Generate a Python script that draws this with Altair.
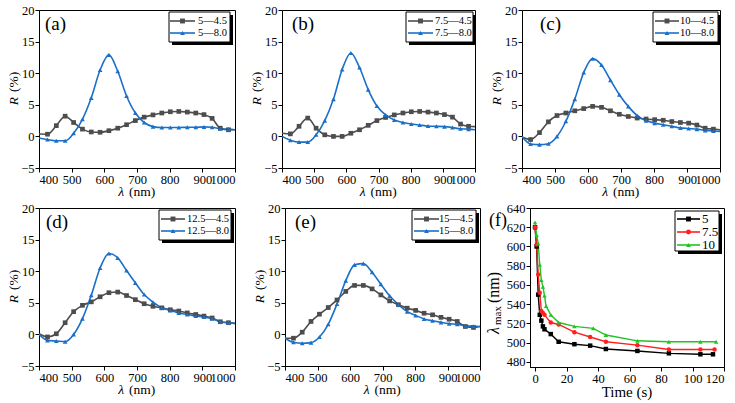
import altair as alt
import pandas as pd

SERIF = "Liberation Serif"
GRAY = "#4d4d4d"
BLUE = "#1a70c8"

# ---------------- data ----------------
WL = [400, 426, 453, 480, 506, 533, 560, 587, 614, 641, 668, 695, 722, 749,
      776, 802, 828, 854, 880, 905, 930, 955, 980, 1000]

a_45 = [0.37, 0.35, 1.7, 3.2, 2.2, 1.15, 0.7, 0.65, 0.9, 1.3, 1.85, 2.5, 3.05, 3.4,
        3.7, 3.9, 3.95, 3.85, 3.7, 3.45, 2.85, 1.3, 1.05, 1.05]
a_80 = [-0.25, -0.5, -0.7, -0.7, 0.5, 2.7, 6.1, 10.5, 12.9, 10.3, 6.4, 3.7, 2.2, 1.55,
        1.4, 1.4, 1.4, 1.45, 1.45, 1.5, 1.45, 1.2, 1.15, 1.05]
b_45 = [0.5, 0.4, 1.6, 2.9, 1.3, 0.25, 0.0, 0.0, 0.5, 1.05, 1.75, 2.5, 3.0, 3.4,
        3.7, 3.9, 3.95, 3.85, 3.7, 3.45, 3.05, 1.95, 1.6, 1.55]
b_80 = [0.0, -0.6, -0.9, -0.9, 0.25, 2.5, 5.9, 10.6, 13.2, 10.9, 7.4, 4.8, 3.4, 2.6,
        2.2, 1.95, 1.8, 1.65, 1.6, 1.55, 1.4, 1.2, 1.15, 1.05]
c_45 = [-0.1, -0.5, 0.6, 2.3, 3.3, 3.7, 4.05, 4.4, 4.75, 4.6, 4.05, 3.5, 3.15, 2.9,
        2.75, 2.65, 2.55, 2.35, 2.2, 2.1, 1.8, 1.3, 1.15, 1.05]
c_80 = [0.0, -1.2, -1.3, -1.15, 0.0, 2.4, 5.9, 10.1, 12.3, 11.3, 8.9, 6.6, 4.75, 3.3,
        2.5, 2.1, 1.85, 1.6, 1.35, 1.25, 1.15, 0.95, 0.85, 0.8]
d_45 = [0.1, -0.4, 0.1, 1.85, 3.6, 4.6, 5.15, 5.95, 6.6, 6.7, 6.15, 5.5, 4.85, 4.45,
        4.2, 3.9, 3.7, 3.4, 3.15, 2.9, 2.6, 2.0, 1.85, 1.75]
d_80 = [0.0, -0.95, -1.05, -1.15, 0.0, 2.5, 6.2, 10.5, 12.8, 12.1, 10.1, 8.15, 6.3, 5.1,
        4.2, 3.8, 3.4, 3.15, 2.9, 2.75, 2.5, 2.0, 1.85, 1.75]
e_45 = [-0.6, -0.6, 0.35, 2.05, 3.2, 4.25, 5.45, 6.8, 7.75, 7.75, 7.2, 6.25, 5.3, 4.7,
        4.15, 3.8, 3.35, 3.1, 2.7, 2.4, 2.05, 1.25, 1.1, 1.25]
e_80 = [-0.6, -1.25, -1.4, -1.3, -0.4, 1.6, 4.8, 8.5, 11.0, 11.2, 9.85, 7.95, 6.1, 4.7,
        3.6, 3.0, 2.45, 2.15, 1.9, 1.7, 1.6, 1.35, 1.3, 1.25]

LEG_A = ["5\u20144.5", "5\u20148.0"]
LEG_B = ["7.5\u20144.5", "7.5\u20148.0"]
LEG_C = ["10\u20144.5", "10\u20148.0"]
LEG_D = ["12.5\u20144.5", "12.5\u20148.0"]
LEG_E = ["15\u20144.5", "15\u20148.0"]

T5 = [0, 1, 2, 3, 4, 5, 6, 10, 15, 25, 35, 45, 65, 85, 105, 113]
L5 = [620, 600, 550, 529, 523, 517, 514, 509, 501, 498.5, 497, 493.5, 491.5, 489, 488, 488]
T75 = [0, 1, 2, 3, 4, 5, 6, 10, 15, 25, 35, 45, 65, 85, 105, 114]
L75 = [620, 602, 571, 552, 533, 531, 529, 521, 519, 511, 506, 501, 497.5, 493, 493, 493]
T10 = [0, 1, 2, 3, 4, 5, 6, 7, 10, 15, 25, 37, 45, 65, 85, 105, 115]
L10 = [625, 612, 603, 581, 565, 558, 549, 538, 529, 521, 517, 515, 508, 502, 501, 501, 501]
LEG_F = ["5", "7.5", "10"]

X_TICKS = [400, 500, 600, 700, 800, 900, 1000]
Y_TICKS = [-5, 0, 5, 10, 15, 20]
F_X_TICKS = [0, 20, 40, 60, 80, 100, 120]
F_Y_TICKS = [480, 500, 520, 540, 560, 580, 600, 620, 640]

ONE = pd.DataFrame({"k": [0]})


def deco_text(text, x, y, size=13, italic=False, align="left", angle=0, baseline="middle"):
    kw = dict(font=SERIF, fontSize=size, color="black", align=align, baseline=baseline)
    if italic:
        kw["fontStyle"] = "italic"
    if angle:
        kw["angle"] = angle
    return alt.Chart(ONE).mark_text(text=text, **kw).encode(x=alt.value(x), y=alt.value(y))


def legend_layers(labels, colors, shapes, box, rows, line_x, text_x, size=10.5):
    x0, y0, x1, y1 = box
    out = [
        alt.Chart(ONE).mark_rect(color="black").encode(
            x=alt.value(x0 + 3), x2=alt.value(x1 + 3), y=alt.value(y0 + 3), y2=alt.value(y1 + 3)),
        alt.Chart(ONE).mark_rect(fill="white", stroke="black", strokeWidth=1).encode(
            x=alt.value(x0), x2=alt.value(x1), y=alt.value(y0), y2=alt.value(y1)),
    ]
    for lab, col, shp, ry in zip(labels, colors, shapes, rows):
        out.append(alt.Chart(ONE).mark_rule(color=col, strokeWidth=1.6).encode(
            x=alt.value(line_x[0]), x2=alt.value(line_x[1]), y=alt.value(ry)))
        out.append(alt.Chart(ONE).mark_point(filled=True, color=col, shape=shp, size=24, opacity=1).encode(
            x=alt.value((line_x[0] + line_x[1]) / 2), y=alt.value(ry)))
        out.append(deco_text(lab, text_x, ry, size=size))
    return out


def spectrum_panel(tag, labels, y45, y80, w, box, line_x, text_x, tag_x, ytx=-25):
    h = 158
    n = len(WL)
    df = pd.DataFrame({
        "wl": WL + WL,
        "R": y45 + y80,
        "series": [labels[0]] * n + [labels[1]] * n,
        "mk": ([False] + [True] * (n - 2) + [False]) * 2,
    })
    xs = alt.Scale(domain=[400, 1000], nice=False, zero=False)
    ys = alt.Scale(domain=[-5, 20], nice=False, zero=False)
    X = alt.X("wl:Q", scale=xs, axis=alt.Axis(values=X_TICKS, title=None, format="d"))
    Y = alt.Y("R:Q", scale=ys, axis=alt.Axis(values=Y_TICKS, title=None, format="d"))
    color = alt.Color("series:N", scale=alt.Scale(domain=labels, range=[GRAY, BLUE]), legend=None)
    shape = alt.Shape("series:N", scale=alt.Scale(domain=labels, range=["square", "triangle-up"]), legend=None)
    line = alt.Chart(df).mark_line(interpolate="monotone", strokeWidth=1.6, clip=True).encode(
        x=X, y=Y, color=color, detail="series:N")
    pts = alt.Chart(df).transform_filter("datum.mk").mark_point(
        filled=True, size=22, opacity=1, clip=True).encode(x=X, y=Y, color=color, shape=shape)
    layers = [line, pts]
    layers += legend_layers(labels, [GRAY, BLUE], ["square", "triangle-up"], box,
                            [box[1] + 9, box[1] + 21], line_x, text_x)
    layers.append(deco_text(tag, tag_x, 20, size=19, baseline="alphabetic"))
    # y title: italic R + " (%)", rotated
    split_y = 87
    layers.append(deco_text("R", ytx, split_y, size=13.5, italic=True, align="right", angle=270))
    layers.append(deco_text("(%)", ytx, split_y - 5, size=13.5, align="left", angle=270))
    # x title
    split_x = w / 2 - 13
    layers.append(deco_text("\u03bb", split_x, h + 24, size=13.5, italic=True, align="right"))
    layers.append(deco_text("(nm)", split_x + 5, h + 24, size=13.5, align="left"))
    return alt.layer(*layers).properties(width=w, height=h)


def time_panel():
    w, h = 194, 159
    df = pd.DataFrame({
        "t": T5 + T75 + T10,
        "lam": L5 + L75 + L10,
        "series": ["5"] * len(T5) + ["7.5"] * len(T75) + ["10"] * len(T10),
    })
    cols = ["#000000", "#ff1f1f", "#22c422"]
    shps = ["square", "circle", "triangle-up"]
    xs = alt.Scale(domain=[-3.2, 120], nice=False, zero=False)
    ys = alt.Scale(domain=[474.8, 640], nice=False, zero=False)
    X = alt.X("t:Q", scale=xs, axis=alt.Axis(values=F_X_TICKS, title=None, format="d"))
    Y = alt.Y("lam:Q", scale=ys, axis=alt.Axis(values=F_Y_TICKS, title=None, format="d"))
    color = alt.Color("series:N", scale=alt.Scale(domain=LEG_F, range=cols), legend=None)
    shape = alt.Shape("series:N", scale=alt.Scale(domain=LEG_F, range=shps), legend=None)
    line = alt.Chart(df).mark_line(strokeWidth=1.4, clip=True).encode(
        x=X, y=Y, color=color, detail="series:N")
    pts = alt.Chart(df).mark_point(filled=True, size=20, opacity=1, clip=True).encode(
        x=X, y=Y, color=color, shape=shape)
    layers = [line, pts]
    layers += legend_layers(LEG_F, cols, shps, (145, 3, 189, 43), [11, 24, 37], (147, 170), 172, size=13)
    layers.append(deco_text("(f)", -41, 18, size=18, baseline="alphabetic"))
    # y title lambda_max (nm)
    ytx = -36
    layers.append(deco_text("\u03bb", ytx, 126, size=16, italic=True, align="left", angle=270))
    layers.append(deco_text("max", ytx + 4, 117, size=11, align="left", angle=270))
    layers.append(deco_text("(nm)", ytx, 95, size=16, align="left", angle=270))
    layers.append(deco_text("Time (s)", w / 2, h + 25, size=15, align="center"))
    return alt.layer(*layers).properties(width=w, height=h)


pa = spectrum_panel("(a)", LEG_A, a_45, a_80, 196, (130, 2, 191, 32), (131, 156), 159, 6)
pb = spectrum_panel("(b)", LEG_B, b_45, b_80, 193, (124, 2, 191, 32), (126, 151), 153, 10)
pc = spectrum_panel("(c)", LEG_C, c_45, c_80, 198, (131, 2, 196, 32), (133, 157), 158, 18)
pd_ = spectrum_panel("(d)", LEG_D, d_45, d_80, 196, (120, 2, 192, 32), (122, 146), 148, 7)
pe = spectrum_panel("(e)", LEG_E, e_45, e_80, 195, (127, 2, 191, 32), (129, 154), 154, 10)
pf = time_panel()

row1 = alt.hconcat(pa, pb, pc, spacing=47, bounds="flush").resolve_scale(
    color="independent", shape="independent")
row2 = alt.hconcat(pd_, pe, pf, spacing=50, bounds="flush").resolve_scale(
    color="independent", shape="independent")

chart = alt.vconcat(row1, row2, spacing=2).resolve_scale(
    color="independent", shape="independent"
).properties(
    padding={"left": 6, "top": 3, "right": 0, "bottom": 0},
    background="white",
).configure_view(
    stroke="black", strokeWidth=1
).configure_axis(
    labelFont=SERIF, labelFontSize=12.5, labelColor="black", labelOverlap=False,
    tickColor="black", domainColor="black", tickSize=4, labelPadding=1,
    grid=False, domainWidth=1, tickWidth=1,
)

chart.save("out.html", embed_options={"renderer": "svg", "actions": False})
